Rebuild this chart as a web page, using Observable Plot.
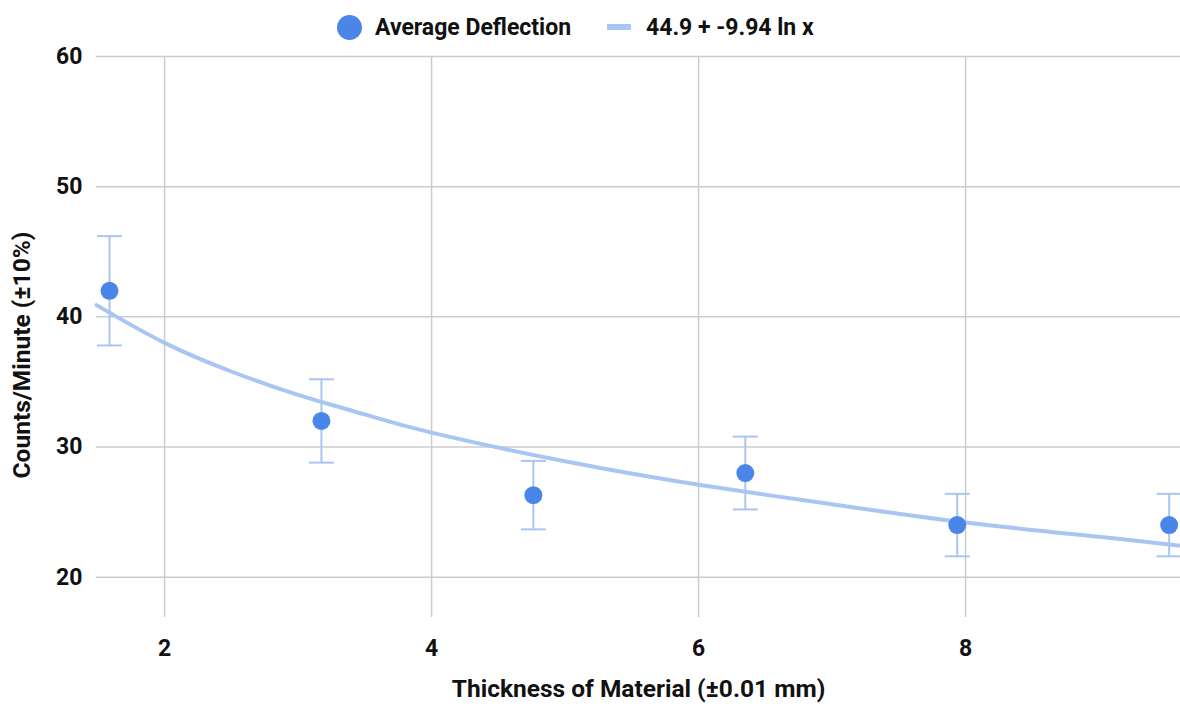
<!DOCTYPE html>
<html>
<head>
<meta charset="utf-8">
<script src="https://cdn.jsdelivr.net/npm/d3@7"></script>
<script src="https://cdn.jsdelivr.net/npm/@observablehq/plot@0.6"></script>
<style>
  html, body { margin: 0; padding: 0; background: #fff; }
  body { width: 1180px; height: 706px; overflow: hidden; font-family: Roboto, "Noto Sans", sans-serif; }
  #legend { height: 40px; position: relative; font-weight: 700; font-size: 23px; color: #111; }
  #legend .item { position: absolute; top: 14px; display: flex; align-items: center; height: 26px; white-space: nowrap; }
  #legend .dot { width: 25px; height: 25px; border-radius: 50%; background: #4a86e8; margin-right: 13px; }
  #legend .sw { width: 24px; height: 6px; background: #a9c5f2; margin-right: 15px; }
</style>
</head>
<body>
<div id="legend">
  <div class="item" style="left:337px"><div class="dot"></div><span>Average Deflection</span></div>
  <div class="item" style="left:607px"><div class="sw"></div><span>44.9 + -9.94 ln x</span></div>
</div>
<div id="chart"></div>
<script>
// Data
const thickness = [1.5875, 3.175, 4.7625, 6.35, 7.9375, 9.525];
const deflection = [42.0, 32.0, 26.3, 28.0, 24.0, 24.0];
const errorSize = [4.2, 3.2, 2.63, 2.8, 2.4, 2.4];
// Trendline "44.9 + -9.94 ln x"
const trendX = [1.49, 2, 2.5, 3, 3.5, 4, 5, 6, 7, 8, 9, 9.61];
const trendY = [40.9, 38.0, 35.8, 34.0, 32.5, 31.1, 28.9, 27.1, 25.6, 24.2, 23.1, 22.4];
const xTicks = [2, 4, 6, 8];
const yTicks = [20, 30, 40, 50, 60];

const points = thickness.map((x, i) => ({x, y: deflection[i], lo: deflection[i] - errorSize[i], hi: deflection[i] + errorSize[i]}));
const trend = trendX.map((x, i) => ({x, y: trendY[i]}));

const capSymbol = { draw(ctx) { ctx.moveTo(-12.5, 0); ctx.lineTo(12.5, 0); } };

const chart = Plot.plot({
  width: 1180,
  height: 666,
  marginTop: 16,
  marginBottom: 89,
  marginLeft: 96,
  marginRight: 0,
  style: { fontFamily: "Roboto, sans-serif", fontSize: "23px", fontWeight: 700, color: "#111", background: "transparent", overflow: "visible" },
  x: { domain: [1.49, 9.61], ticks: xTicks, tickSize: 0, tickPadding: 24, label: null },
  y: { domain: [16.9, 60], ticks: yTicks, tickSize: 0, tickPadding: 14, label: null },
  marks: [
    Plot.ruleX(xTicks, { x: d => d, stroke: "#cccccc", strokeWidth: 1.5 }),
    Plot.ruleY(yTicks, { y: d => d, stroke: "#cccccc", strokeWidth: 1.5 }),
    Plot.axisX({ ticks: xTicks, tickSize: 0, tickPadding: 22, fontSize: 23, fontWeight: 700, label: null }),
    Plot.axisY({ ticks: yTicks, tickSize: 0, tickPadding: 14, fontSize: 23, fontWeight: 700, label: null }),
    Plot.line(trend, { x: "x", y: "y", curve: "natural", stroke: "#a9c5f2", strokeWidth: 4 }),
    Plot.ruleX(points, { x: "x", y1: "lo", y2: "hi", stroke: "#a9c5f2", strokeWidth: 2 }),
    Plot.dot(points, { x: "x", y: "lo", symbol: capSymbol, r: 5, stroke: "#a9c5f2", strokeWidth: 2, fill: "none" }),
    Plot.dot(points, { x: "x", y: "hi", symbol: capSymbol, r: 5, stroke: "#a9c5f2", strokeWidth: 2, fill: "none" }),
    Plot.dot(points, { x: "x", y: "y", r: 9, fill: "#4a86e8", stroke: "none" }),
    Plot.text(["Thickness of Material (±0.01 mm)"], { frameAnchor: "bottom", dy: 79, text: d => d, fontSize: 24.5, fontWeight: 700, fill: "#111" }),
    Plot.text(["Counts/Minute (±10%)"], { frameAnchor: "left", textAnchor: "middle", dx: -74, dy: 18, rotate: -90, text: d => d, fontSize: 24.5, fontWeight: 700, fill: "#111" })
  ]
});
document.getElementById("chart").appendChild(chart);
</script>
</body>
</html>
